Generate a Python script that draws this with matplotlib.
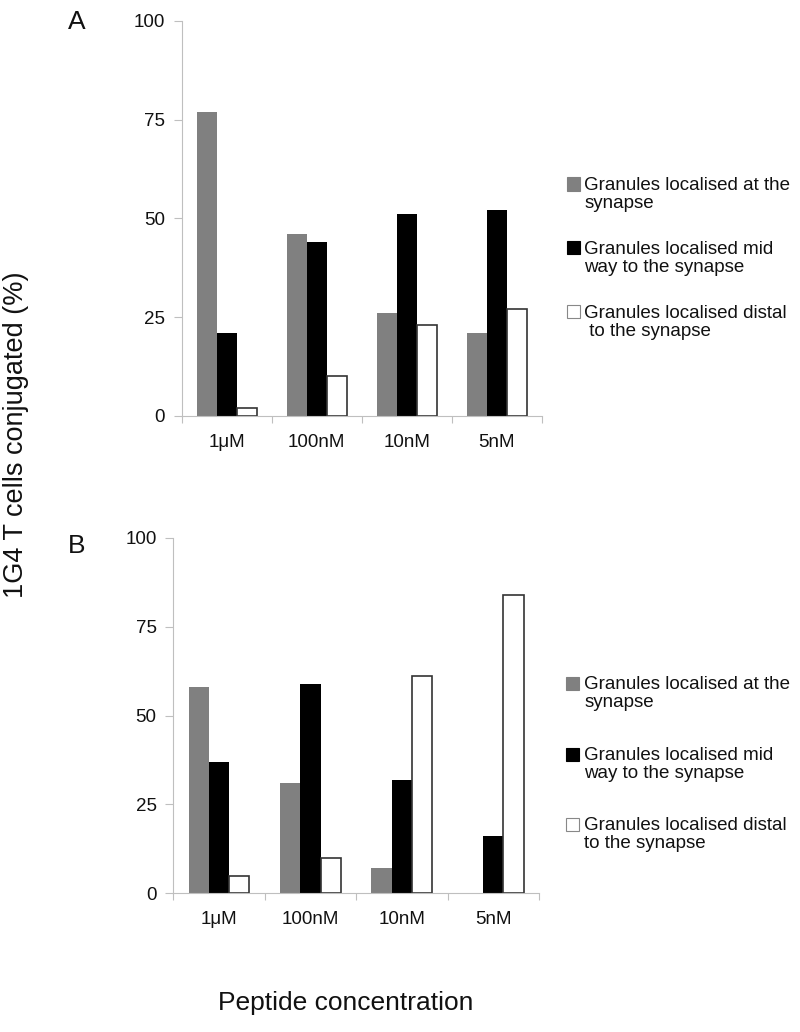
import matplotlib
matplotlib.use("Agg")
import matplotlib.pyplot as plt
from matplotlib.patches import Rectangle
import numpy as np

plt.rcParams['font.family'] = ['Liberation Sans', 'DejaVu Sans']

categories = ["1\u03bcM", "100nM", "10nM", "5nM"]
yticks = [0, 25, 50, 75, 100]

a_synapse = [77, 46, 26, 21]
a_midway = [21, 44, 51, 52]
a_distal = [2, 10, 23, 27]

b_synapse = [58, 31, 7, 0]
b_midway = [37, 59, 32, 16]
b_distal = [5, 10, 61, 84]

legend_labels = ["Granules localised at the\nsynapse",
                 "Granules localised mid\nway to the synapse",
                 "Granules localised distal\n to the synapse"]
legend_labels_b = ["Granules localised at the\nsynapse",
                   "Granules localised mid\nway to the synapse",
                   "Granules localised distal\nto the synapse"]

W, H = 800, 1032
fig = plt.figure(figsize=(W / 100, H / 100), dpi=100)

def fx(px):
    return px / W

def fy(py):
    return 1 - py / H

GRAY = "#808080"
BLACK = "#000000"
EDGE = "#333333"
SPINE = "#bfbfbf"
TXT = "#111111"
FS = 13.5

def make_panel(rect, s1, s2, s3):
    ax = fig.add_axes(rect)
    x = np.arange(len(categories))
    w = 0.222
    ax.bar(x - w, s1, width=w, color=GRAY, edgecolor="none")
    ax.bar(x, s2, width=w, color=BLACK, edgecolor="none")
    ax.bar(x + w, s3, width=w, color="white", edgecolor=EDGE, linewidth=1.2)
    ax.set_xlim(-0.5, len(categories) - 0.5)
    ax.set_ylim(0, 100)
    ax.set_yticks(yticks)
    ax.set_xticks(x)
    ax.set_xticklabels(categories)
    ax.set_xticks(np.arange(len(categories) + 1) - 0.5, minor=True)
    ax.tick_params(axis='x', which='major', length=0, pad=13, labelsize=FS, labelcolor=TXT)
    ax.tick_params(axis='x', which='minor', length=5, color=SPINE, width=0.8)
    ax.tick_params(axis='y', length=6, color=SPINE, width=0.8, pad=6, labelsize=FS, labelcolor=TXT)
    for s in ['top', 'right']:
        ax.spines[s].set_visible(False)
    for s in ['left', 'bottom']:
        ax.spines[s].set_color(SPINE)
        ax.spines[s].set_linewidth(0.8)
    return ax

axA = make_panel([fx(181.7), fy(416), 360 / W, 395.3 / H], a_synapse, a_midway, a_distal)
axB = make_panel([fx(173.3), fy(893.3), 365.7 / W, 355.5 / H], b_synapse, b_midway, b_distal)

fig.text(fx(77), fy(22), "A", fontsize=19, ha='center', va='center', color=TXT)
fig.text(fx(77), fy(546), "B", fontsize=19, ha='center', va='center', color=TXT)

def draw_legend(rows, labels, sq_x):
    colors = [GRAY, BLACK, "white"]
    for (y1, y2), lab, c in zip(rows, labels, colors):
        sq = 13
        fig.patches.append(Rectangle((fx(sq_x), fy(y1 + sq / 2)), sq / W, sq / H,
                                     transform=fig.transFigure, facecolor=c,
                                     edgecolor=("#888888" if c == "white" else c),
                                     linewidth=0.8))
        fig.text(fx(584.5), fy((y1 + y2) / 2), lab, fontsize=FS, ha='left', va='center',
                 color=TXT, linespacing=1.1)

draw_legend([(184, 205), (247.3, 269.3), (311.7, 333.3)], legend_labels, 566.5)
draw_legend([(683.3, 703.3), (754.3, 775), (824, 845)], legend_labels_b, 565.5)

fig.text(fx(16), fy(435), "1G4 T cells conjugated (%)", fontsize=19.5, rotation=90,
         ha='center', va='center', color=TXT)
fig.text(fx(345.5), fy(1003), "Peptide concentration", fontsize=19,
         ha='center', va='center', color=TXT)

fig.savefig("out.png", dpi=100)
